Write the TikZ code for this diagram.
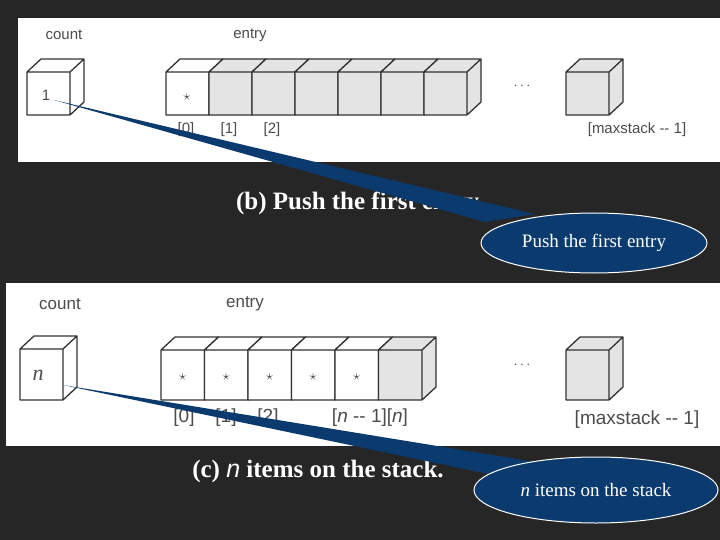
\documentclass[tikz,border=0pt]{standalone}
\usepackage{fontspec}
\usetikzlibrary{shapes.geometric}
\newfontfamily\sans{Liberation Sans}
\setmainfont{Liberation Serif}
\begin{document}
\definecolor{bg}{HTML}{262626}
\definecolor{cellg}{HTML}{E4E4E4}
\definecolor{callblue}{HTML}{0B3A6E}
\newcommand{\mycube}[5]{% x y w h fill
  \fill[#5] (#1,#2) rectangle ++(#3,#4);
  \fill[#5] (#1,#2) -- ++(14,-13) -- ++(#3,0) -- ++(0,#4) -- ++(-14,13) -- cycle;
  \draw[line width=1.3pt,black!80,line join=round] (#1,#2) rectangle ++(#3,#4)
    (#1,#2) -- ++(14,-13) -- ++(#3,0) -- ++(-14,13)
    (#1+#3+14,#2-13) -- ++(0,#4) -- ++(-14,13);}
\begin{tikzpicture}[x=1pt,y=-1pt,
  lab/.style={font=\sans\fontsize{15}{15}\selectfont,text=black!70},
  capt/.style={font=\bfseries\fontsize{25}{25}\selectfont,text=white},
  call/.style={ellipse,draw=white,fill=callblue,line width=1pt,text=white}]
\useasboundingbox (0,0) rectangle (720,540);
\fill[bg] (0,0) rectangle (720,540);
% panel 1
\fill[white] (18,18) rectangle (720,162);
\node[lab] (c1) at (64,35) {count};
\node[lab] (e1) at (250,35) {entry};
\mycube{27}{72}{43}{43}{white}
\node[lab] (n1) at (46,95) {1};
\mycube{166}{72}{43}{43}{white}
\foreach \i in {1,...,6}{\pgfmathsetmacro\xx{166+43*\i}\mycube{\xx}{72}{43}{43}{cellg}}
\node[lab] at (187,97) {$\star$};
\node[lab] at (522,86) {$\cdots$};
\mycube{566}{72}{43}{43}{cellg}
\node[lab] at (186,130) {[0]};
\node[lab] at (229,130) {[1]};
\node[lab] at (272,130) {[2]};
\node[lab] at (637,130) {[maxstack -- 1]};
% panel 2
\fill[white] (6,283) rectangle (720,446);
\node[lab,font=\sans\fontsize{17}{17}\selectfont] at (60,304) {count};
\node[lab,font=\sans\fontsize{17}{17}\selectfont] at (245,304) {entry};
\mycube{20}{349}{43}{51}{white}
\node[lab,font=\fontsize{22}{22}\selectfont\itshape] (n2) at (38,375) {n};
\foreach \i in {0,...,4}{\pgfmathsetmacro\xx{161+43.5*\i}\mycube{\xx}{350}{43.5}{50}{white}
  \pgfmathsetmacro\xc{161+43.5*\i+21.7}\node[lab] at (\xc,377) {$\star$};}
\mycube{378.5}{350}{43.5}{50}{cellg}
\node[lab] at (522,365) {$\cdots$};
\mycube{566}{350}{43}{50}{cellg}
\begin{scope}[lab,font=\sans\fontsize{19}{19}\selectfont]
\node at (184,418) {[0]};
\node at (226,418) {[1]};
\node at (268,418) {[2]};
\node at (370,418) {[\textit{n} -- 1][\textit{n}]};
\node at (637,420) {[maxstack -- 1]};
\end{scope}
% captions
\node[capt] at (360,203) {(b) Push the first entry.};
\node[capt] at (318,471) {(c) {\sans\mdseries\itshape n} items on the stack.};
% callouts
\fill[callblue] (54,100) -- (485,222) -- (535,214) -- cycle;
\node[call,minimum width=226,minimum height=60,font=\fontsize{19}{19}\selectfont] (k1) at (594,243) {Push the first entry};
\fill[callblue] (63,385) -- (498,476) -- (560,466) -- cycle;
\node[call,minimum width=244,minimum height=66,font=\fontsize{19}{19}\selectfont] (k2) at (596,490) {\textit{n} items on the stack};
\end{tikzpicture}
\end{document}
